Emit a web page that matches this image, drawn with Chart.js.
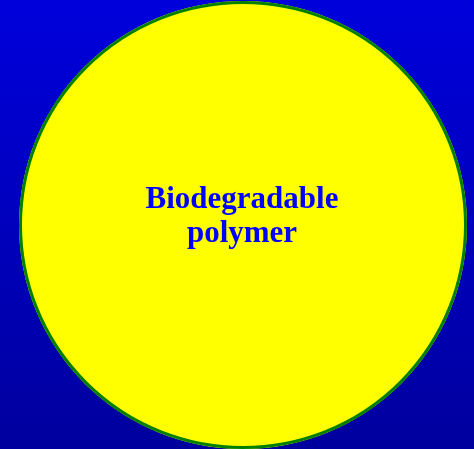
<!DOCTYPE html>
<html>
<head>
<meta charset="utf-8">
<script src="https://cdn.jsdelivr.net/npm/chart.js@4"></script>
<style>
  html, body { margin: 0; padding: 0; }
  body {
    width: 474px; height: 449px; overflow: hidden;
    background: linear-gradient(to bottom, #0000dc, #00009e);
  }
  #wrap { position: relative; width: 474px; height: 449px; }
</style>
</head>
<body>
<div id="wrap"><canvas id="pieChart"></canvas></div>
<script>
const labels = ['Biodegradable polymer'];
const values = [100];
const labelLines = [['Biodegradable', 'polymer']];

// outline of the circle (no radial seam) and the slice label in the middle
const pieDecor = {
  id: 'pieDecor',
  afterDatasetsDraw(chart) {
    const arc = chart.getDatasetMeta(0).data[0];
    const ctx = chart.ctx;
    ctx.save();
    ctx.strokeStyle = '#008000';
    ctx.lineWidth = 3;
    ctx.beginPath();
    ctx.arc(arc.x, arc.y, arc.outerRadius - 1.5, 0, Math.PI * 2);
    ctx.stroke();

    ctx.fillStyle = '#0000ff';
    ctx.font = 'bold 31px "Liberation Serif", "Times New Roman", serif';
    ctx.textAlign = 'center';
    ctx.textBaseline = 'alphabetic';
    ctx.fillText(labelLines[0][0], arc.x - 1, 208);
    ctx.fillText(labelLines[0][1], arc.x - 1, 242);
    ctx.restore();
  }
};

const ctx = document.getElementById('pieChart').getContext('2d');
new Chart(ctx, {
  type: 'pie',
  data: {
    labels: labels,
    datasets: [{
      data: values,
      backgroundColor: '#ffff00',
      borderWidth: 0
    }]
  },
  options: {
    responsive: true,
    maintainAspectRatio: false,
    animation: false,
    events: [],
    layout: { padding: { left: 19, right: 7, top: 1, bottom: 0 } },
    plugins: {
      legend: { display: false },
      tooltip: { enabled: false }
    }
  },
  plugins: [pieDecor]
});
</script>
</body>
</html>
